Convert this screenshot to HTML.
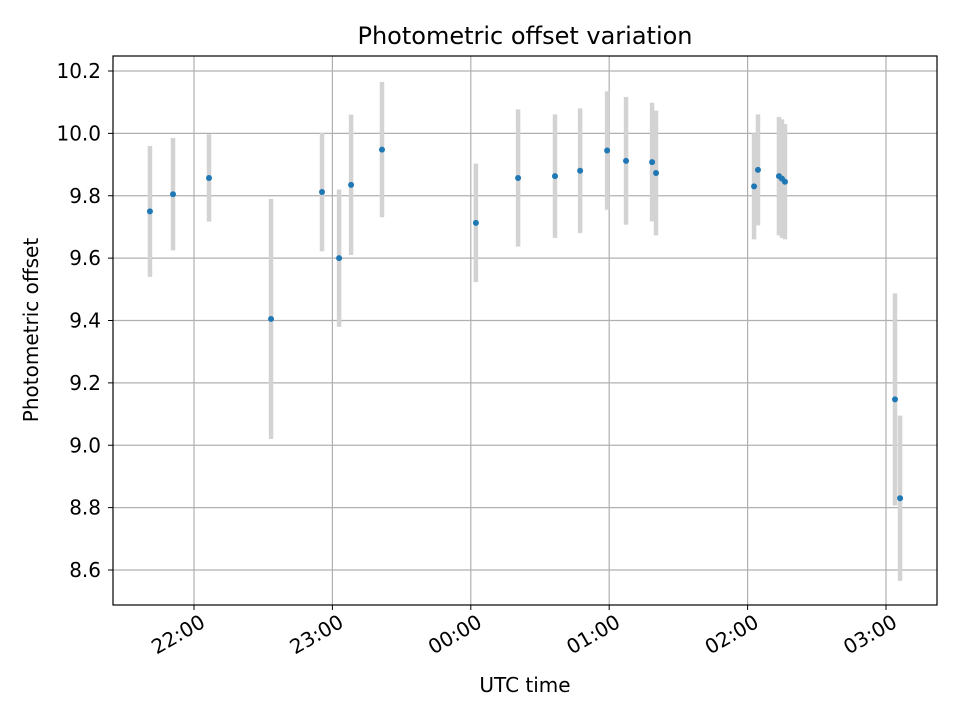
<!DOCTYPE html>
<html><head><meta charset="utf-8"><style>body{margin:0;background:#fff}svg{display:block;font-family:"DejaVu Sans","Liberation Sans",sans-serif}</style></head>
<body>
<svg id="chart" width="960" height="720">
<rect width="960" height="720" fill="#fff"/>
<text x="525" y="44" font-size="24" text-anchor="middle">Photometric offset variation</text>
<g id="grid"></g><g id="bars"></g><g id="pts"></g>
<rect x="113" y="56" width="824" height="549" fill="none" stroke="#000" stroke-width="1.2"/>
<g id="axes"></g>
<text x="525" y="692" font-size="20" text-anchor="middle">UTC time</text>
<text transform="translate(38,330) rotate(-90)" font-size="20" text-anchor="middle">Photometric offset</text>
</svg>
<script>
// minutes relative to 22:00 UTC
const times=[-19.1,-9.1,6.5,33.4,55.5,62.9,68.1,81.5,122.2,140.5,156.5,167.4,179.1,187.3,198.6,200.3,242.8,244.5,253.6,254.9,256.2,303.9,306.1];
const offsets=[9.75,9.805,9.857,9.405,9.812,9.60,9.835,9.948,9.713,9.857,9.863,9.88,9.945,9.912,9.908,9.873,9.83,9.883,9.863,9.855,9.845,9.147,8.83];
const errors=[0.21,0.18,0.14,0.385,0.19,0.22,0.225,0.217,0.19,0.22,0.198,0.2,0.19,0.205,0.19,0.2,0.17,0.178,0.19,0.19,0.185,0.34,0.265];
const xTickMinutes=[0,60,120,180,240,300];
const xTickLabels=["22:00","23:00","00:00","01:00","02:00","03:00"];
const yTicks=[8.6,8.8,9.0,9.2,9.4,9.6,9.8,10.0,10.2];
const NS="http://www.w3.org/2000/svg";
const xS=m=>194+m*138.4/60;
const yS=v=>71+(10.2-v)*(570-71)/1.6;
function mk(tag,attrs,parent,txt){const e=document.createElementNS(NS,tag);for(const k in attrs)e.setAttribute(k,attrs[k]);if(txt!==undefined)e.textContent=txt;document.getElementById(parent).appendChild(e);return e;}
xTickMinutes.forEach((m,i)=>{const x=xS(m);
 let g=mk('line',{x1:x,x2:x,y1:56,y2:605,stroke:'#b0b0b0','stroke-width':1.2},'grid');
 
 
 let t=mk('line',{x1:x,x2:x,y1:605,y2:610,stroke:'#000'},'axes');
 
 
 let l=mk('text',{x:0,y:15,'font-size':20,'text-anchor':'end',transform:`translate(${x+5} 613) rotate(-30)`},'axes',xTickLabels[i]);
 
 
});
yTicks.forEach(v=>{const y=yS(v);
 let g=mk('line',{x1:113,x2:937,y1:y,y2:y,stroke:'#b0b0b0','stroke-width':1.2},'grid');
 
 
 let t=mk('line',{x1:108,x2:113,y1:y,y2:y,stroke:'#000'},'axes');
 
 
 let l=mk('text',{x:101,y:y+7,'font-size':20,'text-anchor':'end'},'axes',v.toFixed(1));
 
 
});
times.forEach((m,i)=>{const x=xS(m);
 let b=mk('line',{x1:x,x2:x,y1:yS(offsets[i]-errors[i]),y2:yS(offsets[i]+errors[i]),stroke:'#d3d3d3','stroke-width':4.5},'bars');
 
 
 let p=mk('circle',{cx:x,cy:yS(offsets[i]),r:3,fill:'#1f77b4'},'pts');
 
 
});
</script>
</body></html>
